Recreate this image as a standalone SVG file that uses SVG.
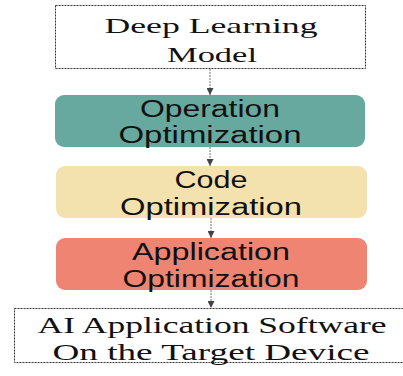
<svg xmlns="http://www.w3.org/2000/svg" width="403" height="376" viewBox="0 0 403 376">
<defs>
<marker id="ah" viewBox="0 0 10 10" refX="10" refY="5" markerWidth="7" markerHeight="7" markerUnits="userSpaceOnUse" orient="auto">
<path d="M0,0 L10,5 L0,10 z" fill="#444"/>
</marker>
<style>
.sq{fill:#fff;stroke:#333;stroke-width:1;stroke-dasharray:2 1}
.serif{font-family:"Liberation Serif","Times New Roman",serif;font-size:22px;fill:#111;text-anchor:middle}
.big{font-size:24px}
.sans{font-family:"Liberation Sans",Arial,sans-serif;font-size:23px;fill:#111;text-anchor:middle}
.conn{stroke:#777;stroke-width:1;stroke-dasharray:2 1;fill:none}
</style>
</defs>
<rect width="403" height="376" fill="#fff"/>
<g id="n1">
<rect class="sq" x="55.5" y="5.5" width="310" height="63"/>
<text class="serif" x="211" y="33" textLength="213" lengthAdjust="spacingAndGlyphs">Deep Learning</text>
<text class="serif" x="212" y="62" textLength="90" lengthAdjust="spacingAndGlyphs">Model</text>
</g>
<g id="n2">
<rect x="55" y="95" width="310" height="52" rx="9" fill="#67A99F"/>
<text class="sans" x="210" y="117" textLength="140" lengthAdjust="spacingAndGlyphs">Operation</text>
<text class="sans" x="210" y="143" textLength="183" lengthAdjust="spacingAndGlyphs">Optimization</text>
</g>
<g id="n3">
<rect x="56" y="166" width="311" height="52" rx="9" fill="#F3E2AE"/>
<text class="sans" x="211" y="188" textLength="73" lengthAdjust="spacingAndGlyphs">Code</text>
<text class="sans" x="211" y="215" textLength="182" lengthAdjust="spacingAndGlyphs">Optimization</text>
</g>
<g id="n4">
<rect x="56" y="238" width="311" height="52" rx="9" fill="#F08472"/>
<text class="sans" x="211" y="260" textLength="158" lengthAdjust="spacingAndGlyphs">Application</text>
<text class="sans" x="211" y="287" textLength="177" lengthAdjust="spacingAndGlyphs">Optimization</text>
</g>
<g id="n5">
<rect class="sq" x="14.5" y="308.5" width="392" height="54"/>
<text class="serif big" x="212" y="333" textLength="349" lengthAdjust="spacingAndGlyphs">AI Application Software</text>
<text class="serif big" x="211" y="360" textLength="317" lengthAdjust="spacingAndGlyphs">On the Target Device</text>
</g>
<g id="connectors">
<line class="conn" x1="210" y1="69" x2="210" y2="95" marker-end="url(#ah)"/>
<line class="conn" x1="210" y1="147" x2="210" y2="166" marker-end="url(#ah)"/>
<line class="conn" x1="211" y1="218" x2="211" y2="238" marker-end="url(#ah)"/>
<line class="conn" x1="211" y1="290" x2="211" y2="308" marker-end="url(#ah)"/>
</g>
</svg>
